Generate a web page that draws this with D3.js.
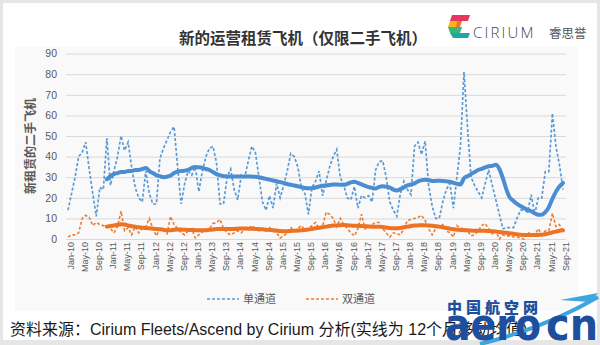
<!DOCTYPE html>
<html>
<head>
<meta charset="utf-8">
<script src="https://cdnjs.cloudflare.com/ajax/libs/d3/7.8.5/d3.min.js"></script>
<style>
  html, body { margin: 0; padding: 0; background: #ffffff; }
  svg { display: block; }
</style>
</head>
<body>
<svg id="chart" width="600" height="345"></svg>
<script>
// Monthly new operating-lease placements of used aircraft, Jan-10 .. Sep-21
const tickLabels = [
  "Jan-10","May-10","Sep-10","Jan-11","May-11","Sep-11","Jan-12","May-12","Sep-12",
  "Jan-13","May-13","Sep-13","Jan-14","May-14","Sep-14","Jan-15","May-15","Sep-15",
  "Jan-16","May-16","Sep-16","Jan-17","May-17","Sep-17","Jan-18","May-18","Sep-18",
  "Jan-19","May-19","Sep-19","Jan-20","May-20","Sep-20","Jan-21","May-21","Sep-21"
];

// Single-aisle (narrowbody), one value per month
const singleAisle = [
  14, 22, 30, 40, 42, 47, 34, 22, 11, 25, 24, 49,
  26, 33, 40, 50, 43, 47, 35, 25, 20, 18, 33, 22,
  17, 17, 39, 44, 48, 52, 54.5, 35, 17, 27, 33, 31,
  35, 23, 33, 40, 44, 45, 37, 17, 17, 30, 34, 24,
  19, 31, 30, 38, 45, 42, 30, 18, 14, 21, 15, 27,
  20, 26, 33, 41.5, 40, 35, 25, 22, 12, 25, 28, 33,
  21, 28, 35, 40, 43.5, 30, 26, 20, 19, 25.5, 15, 21,
  20, 21, 18, 33.5, 37.5, 38, 30, 18, 14, 11, 22, 28,
  24, 21.5, 45, 47, 41, 47.5, 26, 16, 10, 10, 18, 24,
  27, 15, 30, 45, 81, 54, 30, 26, 23, 20, 27, 33.5,
  26, 19, 12, 5, 5.5, 5.5, 5.5, 10, 14, 14, 13, 21.5,
  12, 20, 20, 32.7, 32.7, 61, 45, 36, 24
];

// Twin-aisle (widebody), one value per month
const twinAisle = [
  1, 2, 2, 3, 10, 11.5, 10.5, 6.5, 8, 7, 6.5, 6,
  5, 3, 6, 13.5, 4, 5.5, 2, 6, 3, 5, 6, 10,
  5, 1.5, 5, 4, 2.5, 11, 7, 5, 3, 2, 4, 5,
  0.5, 2, 3.5, 4, 5, 7.5, 8, 9.5, 5, 3, 2, 3,
  4, 3, 4.5, 5, 6.5, 5, 4, 5, 4, 5.5, 4, 3,
  0.5, 1.5, 3, 5.5, 4, 5, 6.5, 4.5, 5, 6.5, 8, 5,
  6, 13, 12, 10, 6, 10, 7, 5, 3, 1.5, 5, 12,
  5, 5.5, 7, 8, 8, 5, 3, 1, 3, 2.5, 2, 5,
  9, 9.5, 10, 10.5, 11.5, 9, 5, 2, 5, 6, 7, 4,
  3, 1, 6.5, 5, 5.5, 4, 1.5, 2, 4, 6.5, 7.5, 5,
  2.5, 4, 0, 2, 1.5, 1.5, 1, 1, 0.5, 0, 3, 2.5,
  2, 5, 2, 4, 4, 12.5, 6, 7, 3.5
];

// 12-month moving averages, first value at Dec-10
const maStart = "Dec-10";
const singleAisleMA = [
  29, 30.5, 31.5, 32, 32.5, 32.5, 33, 33, 33.5, 33.5, 34, 34.5,
  33, 32, 31, 30.5, 30, 30.2, 30.8, 32, 32.8, 33, 33.2, 33.5,
  34.5, 35, 34.8, 34.5, 34, 33.5, 32.5, 31.5, 31, 30.5, 30.4, 30.3,
  30.4, 30.3, 30.3, 30.4, 30.4, 30.3, 30.2, 30, 29.6, 29.2, 28.8, 28.4,
  28, 27.6, 27.2, 26.7, 26.3, 26, 25.6, 25.2, 24.8, 24.6, 24.7, 25,
  25.5, 25.8, 26, 26.2, 26.5, 26.5, 26.3, 26.3, 26.8, 27.5, 27.8, 27.2,
  26.5, 25.8, 25.2, 24.8, 24.5, 25.3, 25.6, 25.4, 25, 24, 23.6, 24.2,
  25, 26, 26.5, 27, 28, 28.5, 28.8, 28.5, 28.2, 28.2, 28.3, 28.2,
  28, 27.8, 27.3, 26.8, 26.5, 29.5, 30.5, 31.5, 32.5, 33.5, 34, 34.8,
  35.3, 35.5, 36, 34, 29.5, 24, 20, 18.5, 17, 16, 15, 14.2,
  13.5, 12.5, 11.8, 11.8, 13, 15.5, 19.5, 23, 25.5, 27.2
];
const twinAisleMA = [
  6, 6.3, 6.6, 6.9, 7.1, 7, 6.6, 6.2, 5.9, 5.7, 5.5, 5.3,
  5.2, 5, 4.8, 4.7, 4.5, 4.3, 4.3, 4.5, 4.6, 4.6, 4.5, 4.4,
  4.4, 4.3, 4.2, 4.2, 4.3, 4.5, 4.6, 4.8, 4.9, 4.9, 4.8, 4.8,
  4.9, 5, 5.1, 5.1, 5, 5, 4.9, 4.8, 4.7, 4.5, 4.4, 4.3,
  4.1, 3.9, 3.8, 3.8, 3.9, 4, 4.1, 4.2, 4.4, 4.6, 4.9, 5.2,
  5.5, 5.7, 6, 6.3, 6.5, 6.6, 6.7, 6.8, 6.7, 6.5, 6.4, 6.4,
  6.3, 6.2, 6.1, 6, 6, 6, 5.8, 5.6, 5.3, 5.2, 5.2, 5.4,
  5.7, 6, 6.3, 6.5, 6.6, 6.7, 6.7, 6.6, 6.4, 6.2, 6, 5.7,
  5.4, 5, 4.7, 4.5, 4.4, 4.3, 4.2, 4.1, 4, 4, 4, 4,
  3.9, 3.8, 3.6, 3.4, 3.2, 3, 2.8, 2.5, 2.3, 2.1, 2, 2,
  1.9, 1.9, 2, 2.1, 2.3, 2.7, 3.2, 3.6, 4, 4.2
];

const yTicks = [0, 10, 20, 30, 40, 50, 60, 70, 80, 90];
const seriesNames = ["单通道", "双通道"];
const colors = { single: "#5b9bd5", singleMA: "#4a8dd3", twin: "#ed7d31", twinMA: "#ec7324" };

// Month categories
const fmt = d3.timeFormat("%b-%y");
const months = d3.timeMonth.range(new Date(2010, 0, 1), new Date(2021, 9, 1)).map(fmt);
const maMonths = months.slice(months.indexOf(maStart));

const svg = d3.select("#chart");
const W = 600, H = 345;

// frame and panels
svg.append("rect").attr("width", W).attr("height", H).attr("fill", "#e6e6e6");
svg.append("rect").attr("x", 3).attr("y", 3).attr("width", W - 6).attr("height", H - 8).attr("fill", "#ffffff");
svg.append("rect").attr("x", 15).attr("y", 47).attr("width", 563).attr("height", 264).attr("fill", "#f9f9f9");

const x = d3.scalePoint().domain(months).range([68, 563]);
const y = d3.scaleLinear().domain([0, 90]).range([239, 53.6]);

// gridlines + y labels
const yAxis = d3.axisLeft(y).tickValues(yTicks).tickSize(-(566 - 66)).tickPadding(9);
const gy = svg.append("g").attr("transform", "translate(66,0)").call(yAxis);
gy.select(".domain").remove();
gy.selectAll(".tick line").attr("stroke", "#d9d9d9").attr("stroke-width", 1);
gy.selectAll(".tick text").attr("fill", "#595959")
  .style("font-family", "'Liberation Sans', Arial, sans-serif").style("font-size", "10.5px");

// x labels, rotated
const xAxis = d3.axisBottom(x).tickValues(tickLabels).tickSize(0).tickPadding(0);
const gx = svg.append("g").attr("transform", "translate(2,242)").call(xAxis);
gx.select(".domain").remove();
gx.selectAll(".tick text")
  .attr("transform", "rotate(-90)")
  .attr("text-anchor", "end")
  .attr("x", 0).attr("y", 0).attr("dy", "0.35em")
  .attr("fill", "#595959")
  .style("font-family", "'Liberation Sans', Arial, sans-serif").style("font-size", "9px");

// lines
const line = d3.line().x(d => x(d[0])).y(d => y(d[1]));
const pairs = (cats, vals) => cats.map((c, i) => [c, vals[i]]);

svg.append("path").datum(pairs(months, singleAisle)).attr("d", line)
  .attr("fill", "none").attr("stroke", colors.single).attr("stroke-width", 1.7)
  .attr("stroke-dasharray", "3,2");
svg.append("path").datum(pairs(months, twinAisle)).attr("d", line)
  .attr("fill", "none").attr("stroke", colors.twin).attr("stroke-width", 1.6)
  .attr("stroke-dasharray", "3,2");
svg.append("path").datum(pairs(maMonths, singleAisleMA)).attr("d", line.curve(d3.curveMonotoneX))
  .attr("fill", "none").attr("stroke", colors.singleMA).attr("stroke-width", 4)
  .attr("stroke-linejoin", "round").attr("stroke-linecap", "round");
svg.append("path").datum(pairs(maMonths, twinAisleMA)).attr("d", line)
  .attr("fill", "none").attr("stroke", colors.twinMA).attr("stroke-width", 4)
  .attr("stroke-linejoin", "round").attr("stroke-linecap", "round");

// title
svg.append("text").attr("x", 303).attr("y", 44).attr("text-anchor", "middle")
  .attr("fill", "#333333")
  .style("font-family", "'Noto Sans CJK SC', sans-serif").style("font-weight", "700").style("font-size", "15.5px")
  .text("新的运营租赁飞机（仅限二手飞机）");

// y axis title
svg.append("text").attr("transform", "translate(35,146) rotate(-90)").attr("text-anchor", "middle")
  .attr("fill", "#595959")
  .style("font-family", "'Noto Sans CJK SC', sans-serif").style("font-weight", "700").style("font-size", "12px")
  .text("新租赁的二手飞机");

// legend
const legend = [
  { name: seriesNames[0], color: colors.single, x: 207 },
  { name: seriesNames[1], color: colors.twin, x: 306 }
];
legend.forEach(l => {
  svg.append("line").attr("x1", l.x).attr("x2", l.x + 32).attr("y1", 299).attr("y2", 299)
    .attr("stroke", l.color).attr("stroke-width", 1.6).attr("stroke-dasharray", "3,2");
  svg.append("text").attr("x", l.x + 36).attr("y", 303).attr("fill", "#595959")
    .style("font-family", "'Noto Sans CJK SC', sans-serif").style("font-size", "11px")
    .text(l.name);
});

// brand mark
const logo = svg.append("g").attr("transform", "translate(448,15)");
logo.append("path").attr("d", "M4,0 L22,0 L20,6 L2,6 Z").attr("fill", "#e8365d");
logo.append("path").attr("d", "M2,6 L11,6 L9,12 L0,12 Z").attr("fill", "#f5b51b");
logo.append("path").attr("d", "M0,12 L14,12 L12,18 L2,18 Z").attr("fill", "#3bb57a");
logo.append("path").attr("d", "M2,18 L22,18 L20,23 L5,23 Z").attr("fill", "#1fa7a8");
logo.append("path").attr("d", "M9,6 L14,6 L12,12 L8,12 Z").attr("fill", "#e9772f");
svg.append("text").attr("x", 473).attr("y", 38).attr("fill", "#444")
  .style("font-family", "'Open Sans', sans-serif").style("font-weight", "300").style("font-size", "15px")
  .style("letter-spacing", "2.2px").text("CIRIUM");
svg.append("text").attr("x", 549).attr("y", 38).attr("fill", "#555")
  .style("font-family", "'Noto Sans CJK SC', sans-serif").style("font-size", "12.5px")
  .text("睿思誉");

// source note
svg.append("text").attr("x", 10).attr("y", 335).attr("fill", "#1a1a1a")
  .style("font-family", "'Liberation Sans', 'Noto Sans CJK SC', sans-serif").style("font-size", "16px")
  .text("资料来源：Cirium Fleets/Ascend by Cirium 分析(实线为 12个月移动均值)");

// site watermark
const wm = svg.append("g");
wm.append("text").attr("x", 447).attr("y", 313).attr("fill", "#1d4f9e")
  .style("font-family", "'Noto Sans CJK SC', sans-serif").style("font-weight", "900").style("font-size", "15px")
  .style("letter-spacing", "4px").text("中国航空网");
wm.append("path").attr("d", "M480,344 Q545,328 598,297")
  .attr("fill", "none").attr("stroke", "#3ea6de").attr("stroke-width", 4);
wm.append("path").attr("d", "M560,300 L598,293 L590,302 Z").attr("fill", "#3ea6de");
wm.append("text").attr("x", 445).attr("y", 340).attr("fill", "#1d4f9e")
  .attr("textLength", 96).attr("lengthAdjust", "spacingAndGlyphs")
  .style("font-family", "'DejaVu Sans', sans-serif").style("font-weight", "700").style("font-size", "44px")
  .text("aero");
wm.append("text").attr("x", 546).attr("y", 340).attr("fill", "#1d4f9e")
  .attr("textLength", 52).attr("lengthAdjust", "spacingAndGlyphs")
  .style("font-family", "'DejaVu Sans', sans-serif").style("font-weight", "700").style("font-size", "44px")
  .text("cn");
</script>
</body>
</html>
